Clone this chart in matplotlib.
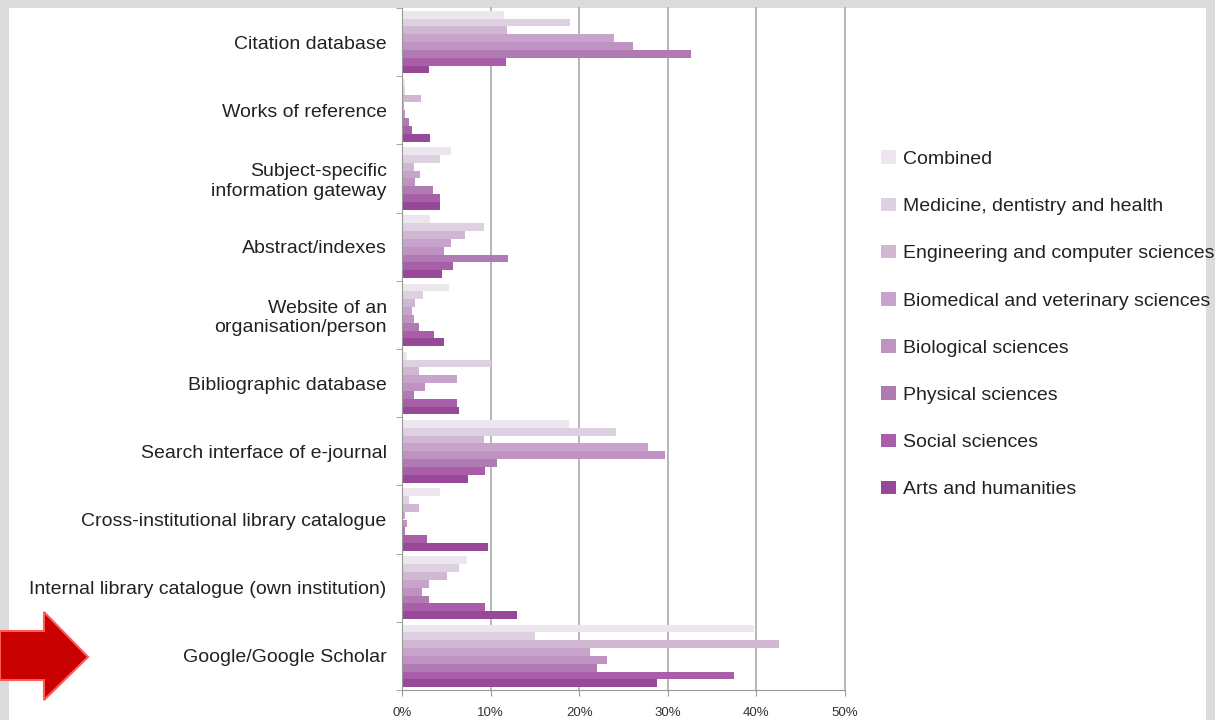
import matplotlib.pyplot as plt
from matplotlib.patches import Polygon, Rectangle
import numpy as np

categories = ["Citation database", "Works of reference",
              "Subject-specific\ninformation gateway", "Abstract/indexes",
              "Website of an\norganisation/person", "Bibliographic database",
              "Search interface of e-journal", "Cross-institutional library catalogue",
              "Internal library catalogue (own institution)", "Google/Google Scholar"]
series = ["Combined", "Medicine, dentistry and health", "Engineering and computer sciences",
          "Biomedical and veterinary sciences", "Biological sciences", "Physical sciences",
          "Social sciences", "Arts and humanities"]
combined = [11.5, 0.3, 5.5, 3.2, 5.3, 0.6, 18.8, 4.3, 7.3, 39.7]
medicine = [19.0, 0.3, 4.3, 9.2, 2.4, 10.0, 24.2, 0.8, 6.4, 15.0]
engineering = [11.8, 2.1, 1.3, 7.1, 1.5, 1.9, 9.2, 1.9, 5.1, 42.5]
biomedical = [23.9, 0.2, 2.0, 5.5, 1.1, 6.2, 27.8, 0.3, 3.0, 21.2]
biological = [26.1, 0.3, 1.5, 4.7, 1.3, 2.6, 29.7, 0.6, 2.3, 23.1]
physical = [32.6, 0.8, 3.5, 12.0, 1.9, 1.3, 10.7, 0.3, 3.0, 22.0]
social = [11.7, 1.1, 4.3, 5.8, 3.6, 6.2, 9.4, 2.8, 9.4, 37.5]
arts = [3.0, 3.2, 4.3, 4.5, 4.7, 6.4, 7.5, 9.7, 13.0, 28.8]
xticks = [0, 10, 20, 30, 40, 50]

values = [combined, medicine, engineering, biomedical, biological, physical, social, arts]
colors = ["#ede6ee", "#ddd0e0", "#d0b8d2", "#c8a3cb", "#bf92c1", "#b07ab2", "#a95ea9", "#974896"]

plt.rcParams['font.family'] = ['Liberation Sans', 'DejaVu Sans']
fig = plt.figure(figsize=(12.15, 7.2), dpi=100)
fig.patch.set_facecolor("#dcdcdc")
fig.patches.append(Rectangle((9/1215, 0), 1197/1215, 1 - 8/720, transform=fig.transFigure,
                             facecolor="white", edgecolor="none", zorder=-5))

ax = fig.add_axes([402/1215, 30/720, 443/1215, 682/720])
ax.set_facecolor("white")
y = np.arange(len(categories))
h = 0.115
for i, (vals, c) in enumerate(zip(values, colors)):
    ax.barh(y + (i - 3.5) * h, vals, height=h, color=c, edgecolor="none", label=series[i], zorder=2)

ax.set_ylim(len(categories) - 0.5, -0.5)
ax.set_xlim(0, 50)
ax.set_xticks(xticks)
ax.set_xticklabels([f"{t}%" for t in xticks], fontsize=9.5, color="#333333")
ax.set_yticks(y)
ax.set_yticklabels(categories, fontsize=14, color="#222222")
ax.tick_params(axis="y", length=0, pad=11)
ax.set_yticks(np.arange(len(categories) + 1) - 0.5, minor=True)
ax.tick_params(axis="y", which="minor", length=4, color="#999999")
ax.tick_params(axis="x", length=4, color="#999999", pad=8)
for t in xticks[1:]:
    ax.axvline(t, color="#aaaaaa", lw=1.2, zorder=1, clip_on=False)
for s in ["top", "right"]:
    ax.spines[s].set_visible(False)
ax.spines["left"].set_color("#999999")
ax.spines["bottom"].set_color("#999999")

handles, labels = ax.get_legend_handles_labels()
fig.legend(handles, labels, loc="upper left", bbox_to_anchor=(863/1215, 1 - 133/720),
           frameon=False, fontsize=14, labelspacing=1.52, handlelength=0.8, handleheight=0.7,
           handletextpad=0.35, labelcolor="#222222")

arrow = [(0, 631), (44, 631), (44, 612), (88, 657), (44, 700), (44, 680), (0, 680)]
arrow = [(x / 1215, 1 - yy / 720) for x, yy in arrow]
fig.patches.append(Polygon(arrow, closed=True, transform=fig.transFigure,
                           facecolor="#c80000", edgecolor="#ff5a5a", lw=1.5, zorder=5))

fig.savefig("out.png", dpi=100)
